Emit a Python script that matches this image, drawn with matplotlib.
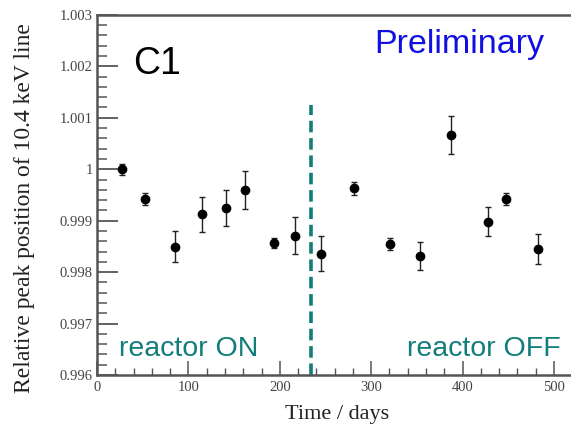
import matplotlib
matplotlib.use("Agg")
import matplotlib.pyplot as plt
from matplotlib.ticker import MultipleLocator, FixedLocator, FixedFormatter

# Measurement times (days) and relative peak position of the 10.4 keV line
days = [27, 52, 85, 115, 141, 162, 194, 217, 245, 281, 321, 354, 387, 428, 448, 483]
peak = [1.00000, 0.99942, 0.99849, 0.99912, 0.99925, 0.99959, 0.99857, 0.99871,
        0.99836, 0.99963, 0.99855, 0.99831, 1.00067, 0.99898, 0.99942, 0.99845]
err = [0.00011, 0.00012, 0.00030, 0.00034, 0.00035, 0.00037, 0.00010, 0.00036,
       0.00034, 0.00013, 0.00012, 0.00027, 0.00037, 0.00028, 0.00012, 0.00029]

reactor_off_day = 234
y_ticks = [0.996, 0.997, 0.998, 0.999, 1.000, 1.001, 1.002, 1.003]
y_tick_labels = ["0.996", "0.997", "0.998", "0.999", "1", "1.001", "1.002", "1.003"]
x_ticks = [0, 100, 200, 300, 400, 500]

teal = "#127d79"
axis_grey = "#555555"

fig = plt.figure(figsize=(5.71, 4.25), dpi=100)
ax = fig.add_axes([0.170, 0.1176, 0.84, 0.8474])

ax.errorbar(days, peak, yerr=err, fmt="o", color="black", markersize=6,
            ecolor="#222222", elinewidth=1.0, capsize=2.5, capthick=1.0, zorder=3)

ax.vlines(reactor_off_day, 0.996, 1.00124, colors=teal, linestyles=(0, (3.2, 1.6)),
          linewidth=2.6, zorder=2)

ax.set_xlim(0, 525)
ax.set_ylim(0.996, 1.003)

serif = ["Liberation Serif", "DejaVu Serif"]
sans = ["Liberation Sans", "DejaVu Sans"]

ax.yaxis.set_major_locator(FixedLocator(y_ticks))
ax.yaxis.set_major_formatter(FixedFormatter(y_tick_labels))
ax.yaxis.set_minor_locator(MultipleLocator(0.0002))
ax.xaxis.set_major_locator(FixedLocator(x_ticks))
ax.xaxis.set_minor_locator(MultipleLocator(20))

ax.tick_params(axis="y", which="major", direction="in", length=15, width=1.3,
               color=axis_grey, labelsize=10.5, labelcolor="#444444", pad=3)
ax.tick_params(axis="y", which="minor", direction="in", length=7, width=1.1,
               color=axis_grey)
ax.tick_params(axis="x", which="major", direction="in", length=10, width=1.1,
               color=axis_grey, labelsize=10.5, labelcolor="#444444", pad=4)
ax.tick_params(axis="x", which="minor", direction="in", length=5, width=1.0,
               color=axis_grey)
for lab in ax.get_xticklabels() + ax.get_yticklabels():
    lab.set_fontfamily(serif)

for side in ("left", "bottom", "top"):
    ax.spines[side].set_color(axis_grey)
    ax.spines[side].set_linewidth(1.8)
ax.spines["right"].set_visible(False)

ax.set_xlabel("Time / days", fontsize=16, family=serif, color="#222222", labelpad=8)
ax.set_ylabel("Relative peak position of 10.4 keV line", fontsize=17, family=serif,
              color="#222222", labelpad=10)
ax.yaxis.set_label_coords(-0.13, 0.464)

ax.text(40, 1.00186, "C1", fontsize=27, family=sans, color="black")
ax.text(303, 1.00225, "Preliminary", fontsize=24.5, family=sans, color="#1010e0")
ax.text(24, 0.99637, "reactor ON", fontsize=20.5, family=sans, color=teal)
ax.text(507, 0.99637, "reactor OFF", fontsize=20.5, family=sans, color=teal, ha="right")

fig.savefig("out.png", dpi=100)
